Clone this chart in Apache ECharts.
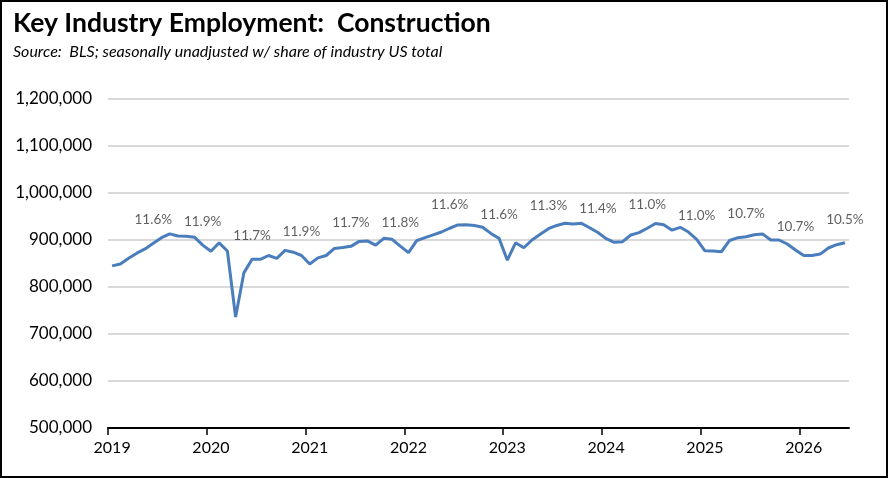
<!DOCTYPE html>
<html>
<head>
<meta charset="utf-8">
<script src="https://cdn.jsdelivr.net/npm/echarts@6/dist/echarts.min.js"></script>
<style>
html,body{margin:0;padding:0;background:#fff;}
#wrap{position:relative;width:888px;height:478px;}
#chart{position:absolute;left:0;top:0;width:888px;height:478px;}
#frame{position:absolute;left:0;top:0;width:888px;height:478px;box-sizing:border-box;border:2px solid #000;pointer-events:none;}
</style>
</head>
<body>
<div id="wrap"><div id="chart"></div><div id="frame"></div></div>
<script>
// Monthly employment, Jan 2019 .. Jun 2026
const startYear = 2019;
const employment = [
  845000, 849000, 861000, 872000, 881000, 893000, 905000, 913000, 908500, 908000, 906000, 889000,
  876000, 894000, 876500, 736000, 830000, 859000, 859000, 867000, 861000, 878000, 874000, 867000,
  849000, 862000, 867000, 882000, 884000, 886500, 897000, 898000, 889000, 903500, 901500, 887000,
  873000, 898500, 905000, 911000, 917000, 925000, 932000, 932600, 931000, 927000, 914000, 903500,
  857000, 894000, 883500, 900000, 912000, 924000, 931000, 935500, 934000, 935500, 926000, 916000,
  903000, 895000, 896500, 910700, 915600, 925000, 935000, 932600, 921000, 927000, 917000, 901500,
  877000, 876500, 875000, 899000, 905000, 907000, 911000, 913000, 900000, 900000, 891500, 878700,
  867000, 867000, 870000, 883000, 890000, 894000
];
// Share of US industry total, labelled at Jun and Dec of each year (month index)
const shareMonthIndex = [5, 11, 17, 23, 29, 35, 41, 47, 53, 59, 65, 71, 77, 83, 89];
const shareValues = ['11.6%', '11.9%', '11.7%', '11.9%', '11.7%', '11.8%', '11.6%', '11.6%', '11.3%', '11.4%', '11.0%', '11.0%', '10.7%', '10.7%', '10.5%'];
const yearLabels = ['2019', '2020', '2021', '2022', '2023', '2024', '2025', '2026'];

const lineData = employment.map((v, i) => [i + 0.5, v]);
const labelData = shareMonthIndex.map((m, k) => ({ value: [m + 0.5, employment[m]], share: shareValues[k] }));
const yearTicks = yearLabels.map((y, k) => k * 12);
const yearLabelPos = yearLabels.map((y, k) => k * 12 + 0.5);

const chart = echarts.init(document.getElementById('chart'), null, { renderer: 'canvas' });
chart.setOption({
  animation: false,
  backgroundColor: '#ffffff',
  title: {
    text: 'Key Industry Employment:  Construction',
    subtext: 'Source:  BLS; seasonally unadjusted w/ share of industry US total',
    left: 8, top: 5, itemGap: 7,
    textStyle: { fontFamily: 'Lato', fontWeight: 'bold', fontSize: 26.5, color: '#000' },
    subtextStyle: { fontFamily: 'Lato', fontStyle: 'italic', fontSize: 16, color: '#000' }
  },
  grid: { left: 108, right: 39, top: 99, bottom: 50, containLabel: false },
  xAxis: {
    type: 'value', min: 0, max: 90,
    axisLine: { show: true, lineStyle: { color: '#000', width: 2 } },
    axisTick: { show: true, customValues: yearTicks, length: 7, lineStyle: { color: '#000', width: 1.5 } },
    axisLabel: {
      customValues: yearLabelPos, margin: 12,
      fontFamily: 'Lato', fontSize: 16, color: '#000',
      formatter: v => yearLabels[Math.floor(v / 12)] || ''
    },
    splitLine: { show: false }
  },
  yAxis: {
    type: 'value', min: 500000, max: 1200000, interval: 100000,
    axisLine: { show: false }, axisTick: { show: false },
    axisLabel: { fontFamily: 'Lato', fontSize: 17, color: '#000', margin: 16,
      formatter: v => v.toLocaleString('en-US') },
    splitLine: { lineStyle: { color: '#d9d9d9', width: 2 } }
  },
  series: [
    {
      type: 'line', data: lineData, showSymbol: false, symbol: 'none', silent: true,
      lineStyle: { color: '#4a7dbc', width: 3 }
    },
    {
      type: 'scatter', data: labelData, symbolSize: 1, silent: true,
      itemStyle: { color: '#4a7dbc' },
      label: { show: true, position: 'top', distance: 16, fontFamily: 'Lato', fontSize: 13.5, color: '#383838',
        formatter: p => p.data.share }
    }
  ]
});
</script>
</body>
</html>
